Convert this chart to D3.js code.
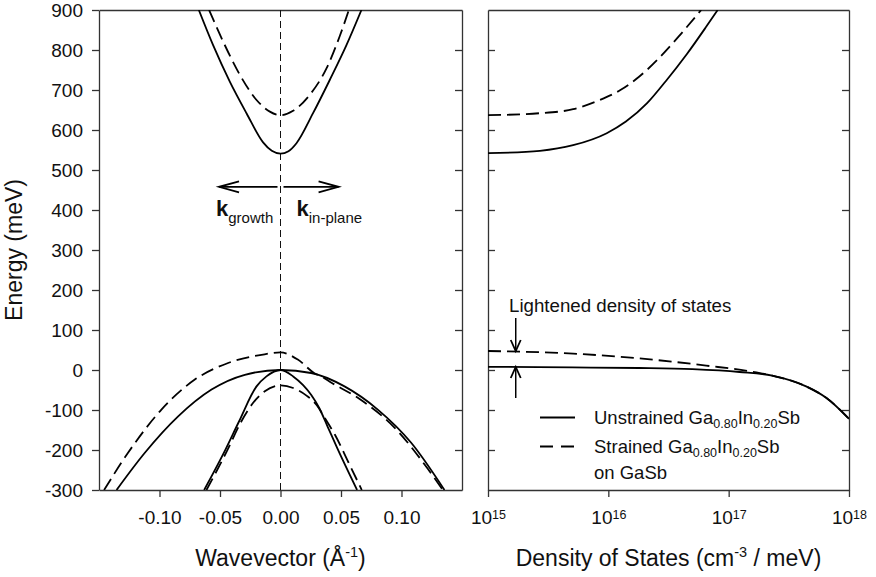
<!DOCTYPE html>
<html>
<head>
<meta charset="utf-8">
<script src="https://cdn.jsdelivr.net/npm/d3@7"></script>
<style>
  body { margin: 0; background: #fff; }
  text { font-family: "Liberation Sans", Arial, Helvetica, sans-serif; fill: #111; }
</style>
</head>
<body>
<script>
// tick values
const energyTicks = [-300, -200, -100, 0, 100, 200, 300, 400, 500, 600, 700, 800, 900];
const kTicks = [-0.10, -0.05, 0.00, 0.05, 0.10];
const dosTicks = [1e15, 1e16, 1e17, 1e18];

// band structure, k in 1/Angstrom (negative = growth direction), E in meV
const cbSolidK = [-0.0675, -0.0557, -0.0419, -0.0281, -0.0144, -0.0072, 0, 0.0066, 0.0132, 0.0269, 0.0407, 0.0545, 0.0669];
const cbSolidE = [900, 812, 721, 642, 569, 548, 541, 547, 567, 642, 725, 812, 900];
const cbDashK = [-0.059, -0.0474, -0.0336, -0.0198, -0.0088, 0, 0.0104, 0.0242, 0.038, 0.049, 0.0565];
const cbDashE = [900, 821, 738, 675, 646, 637, 648, 688, 754, 835, 900];

const hhSolidK = [-0.1355, -0.1121, -0.0846, -0.057, -0.0295, 0, 0.0253, 0.0529, 0.0804, 0.108, 0.1355];
const hhSolidE = [-300, -207, -116, -49, -12, 0, -7.5, -41, -99, -182, -300];
const hhDashK = [-0.1458, -0.126, -0.0984, -0.0708, -0.0433, -0.0157, 0, 0.0143, 0.028, 0.035, 0.0418, 0.0666, 0.0942, 0.1217, 0.1341];
const hhDashE = [-300, -207, -99, -24, 17.5, 38, 44, 26, -8, -18, -31, -75, -144, -247, -300];

const lhSolidK = [-0.0631, -0.0455, -0.0345, -0.0198, -0.0116, 0, 0.0105, 0.0187, 0.0253, 0.032, 0.039, 0.047, 0.0633];
const lhSolidE = [-300, -199, -130, -41, -16, 0, -16, -38, -62, -95, -142, -196, -300];
const lhDashK = [-0.0612, -0.044, -0.033, -0.0226, -0.013, 0, 0.0105, 0.0215, 0.03, 0.037, 0.045, 0.056, 0.0672];
const lhDashE = [-300, -201, -132, -82, -53, -38.5, -45, -64, -88, -122, -162, -230, -300];

// density of states, N in cm^-3/meV, E in meV
const dosCbSolidN = [1e15, 2.7e15, 5.1e15, 9.7e15, 1.4e16, 2.1e16, 3.0e16, 4.5e16, 6.5e16, 8.1e16];
const dosCbSolidE = [542, 548, 562, 592, 621, 667, 722, 790, 858, 900];
const dosCbDashN = [1e15, 2.7e15, 5.1e15, 8.5e15, 1.26e16, 1.8e16, 2.7e16, 3.9e16, 5.9e16];
const dosCbDashE = [637, 642, 652, 675, 700, 733, 783, 836, 900];
const dosVbSolidN = [1e15, 5e15, 1.8e16, 5e16, 1.23e17, 2.3e17, 4.4e17, 6.5e17, 1e18];
const dosVbSolidE = [8, 6.5, 5, 2, -5, -14, -41, -70, -122];
const dosVbDashN = [1e15, 5.1e15, 1.8e16, 6.5e16, 1.7e17, 2.3e17, 4.4e17, 6.5e17, 1e18];
const dosVbDashE = [47.5, 41, 29, 11, -6, -14, -41, -70, -122];

const zip = (xs, ys) => xs.map((x, i) => ({x: x, y: ys[i]}));

const W = 876, H = 577;
const axisColor = "#333";
const tickFont = 19;
const titleFont = 23;

const svg = d3.select("body").append("svg")
  .attr("width", W)
  .attr("height", H);

// scales
const y = d3.scaleLinear().domain([-300, 900]).range([490, 10]);
const xk = d3.scaleLinear().domain([-0.15, 0.15]).range([99, 462]);
const xn = d3.scaleLog().domain([1e15, 1e18]).range([488, 849]);

function styleAxis(g) {
  g.select(".domain").attr("stroke", axisColor).attr("stroke-width", 1.3);
  g.selectAll(".tick line").attr("stroke", axisColor).attr("stroke-width", 1.3);
  g.selectAll(".tick text").attr("font-size", tickFont).attr("fill", "#111");
}

// ---- left panel axes ----
svg.append("g")
  .attr("transform", "translate(" + xk.range()[0] + ",0)")
  .call(d3.axisLeft(y).tickValues(energyTicks).tickSize(7).tickPadding(9).tickSizeOuter(0)
    .tickFormat(d => String(d)))
  .call(styleAxis);

svg.append("g")
  .attr("transform", "translate(" + xk.range()[1] + ",0)")
  .call(d3.axisRight(y).tickValues(energyTicks.slice(1, -1)).tickSize(-7).tickSizeOuter(0).tickFormat(""))
  .call(styleAxis);

svg.append("g")
  .attr("transform", "translate(0," + y(-300) + ")")
  .call(d3.axisBottom(xk).tickValues(kTicks).tickSize(7).tickPadding(14).tickSizeOuter(0)
    .tickFormat(d => d.toFixed(2)))
  .call(styleAxis);

svg.append("g")
  .attr("transform", "translate(0," + y(900) + ")")
  .call(d3.axisTop(xk).tickValues([]).tickSizeOuter(0))
  .call(styleAxis);

// ---- right panel axes ----
svg.append("g")
  .attr("transform", "translate(" + xn.range()[0] + ",0)")
  .call(d3.axisLeft(y).tickValues(energyTicks.slice(1, -1)).tickSize(-7).tickSizeOuter(0).tickFormat(""))
  .call(styleAxis);

svg.append("g")
  .attr("transform", "translate(" + xn.range()[1] + ",0)")
  .call(d3.axisRight(y).tickValues(energyTicks.slice(1, -1)).tickSize(-7).tickSizeOuter(0).tickFormat(""))
  .call(styleAxis);

svg.append("g")
  .attr("transform", "translate(0," + y(900) + ")")
  .call(d3.axisTop(xn).tickValues([]).tickSizeOuter(0))
  .call(styleAxis);

const gxn = svg.append("g")
  .attr("transform", "translate(0," + y(-300) + ")")
  .call(d3.axisBottom(xn).tickValues(dosTicks).tickSize(7).tickPadding(14).tickSizeOuter(0).tickFormat(""))
  .call(styleAxis);

gxn.selectAll(".tick text").each(function(d) {
  const t = d3.select(this).text("10");
  t.append("tspan")
    .attr("font-size", 12.5)
    .attr("dy", -5)
    .text(Math.round(Math.log10(d)));
});

// ---- axis titles ----
svg.append("text")
  .attr("transform", "translate(22," + ((y(900) + y(-300)) / 2) + ") rotate(-90)")
  .attr("text-anchor", "middle")
  .attr("font-size", titleFont)
  .text("Energy (meV)");

const tk = svg.append("text")
  .attr("x", (xk.range()[0] + xk.range()[1]) / 2)
  .attr("y", 566)
  .attr("text-anchor", "middle")
  .attr("font-size", titleFont);
tk.append("tspan").text("Wavevector (Å");
tk.append("tspan").attr("font-size", 14.5).attr("dy", -9).text("-1");
tk.append("tspan").attr("dy", 9).text(")");

const tn = svg.append("text")
  .attr("x", (xn.range()[0] + xn.range()[1]) / 2)
  .attr("y", 566)
  .attr("text-anchor", "middle")
  .attr("font-size", titleFont);
tn.append("tspan").text("Density of States (cm");
tn.append("tspan").attr("font-size", 14.5).attr("dy", -9).text("-3");
tn.append("tspan").attr("dy", 9).text(" / meV)");

// ---- curves ----
svg.append("defs").append("clipPath").attr("id", "clipK")
  .append("rect").attr("x", 99).attr("y", 10).attr("width", 363).attr("height", 480);
svg.append("defs").append("clipPath").attr("id", "clipN")
  .append("rect").attr("x", 488).attr("y", 10).attr("width", 361).attr("height", 480);

// k = 0 guide
svg.append("line")
  .attr("x1", xk(0)).attr("x2", xk(0))
  .attr("y1", y(900)).attr("y2", y(-300))
  .attr("stroke", "#111").attr("stroke-width", 1)
  .attr("stroke-dasharray", "7,4");

const lineK = d3.line().x(d => xk(d.x)).y(d => y(d.y)).curve(d3.curveMonotoneX);
const lineN = d3.line().x(d => xn(d.x)).y(d => y(d.y)).curve(d3.curveMonotoneX);

const bands = [
  {k: cbSolidK, e: cbSolidE, dash: false},
  {k: cbDashK, e: cbDashE, dash: true},
  {k: hhSolidK, e: hhSolidE, dash: false},
  {k: hhDashK, e: hhDashE, dash: true},
  {k: lhSolidK, e: lhSolidE, dash: false},
  {k: lhDashK, e: lhDashE, dash: true}
];

svg.append("g").attr("clip-path", "url(#clipK)")
  .selectAll("path")
  .data(bands)
  .join("path")
  .attr("d", d => lineK(zip(d.k, d.e)))
  .attr("fill", "none")
  .attr("stroke", "#000")
  .attr("stroke-width", 1.8)
  .attr("stroke-dasharray", d => d.dash ? "13,6" : null);

const dos = [
  {n: dosCbSolidN, e: dosCbSolidE, dash: false},
  {n: dosCbDashN, e: dosCbDashE, dash: true},
  {n: dosVbSolidN, e: dosVbSolidE, dash: false},
  {n: dosVbDashN, e: dosVbDashE, dash: true}
];

svg.append("g").attr("clip-path", "url(#clipN)")
  .selectAll("path")
  .data(dos)
  .join("path")
  .attr("d", d => lineN(zip(d.n, d.e)))
  .attr("fill", "none")
  .attr("stroke", "#000")
  .attr("stroke-width", 1.8)
  .attr("stroke-dasharray", d => d.dash ? "13,6" : null);

// ---- k direction arrows ----
function arrowHead(g, x, yy, dx, dy, len, half) {
  // dx,dy: unit direction the arrow points
  const bx = x - dx * len, by = yy - dy * len;
  const px = -dy * half, py = dx * half;
  g.append("path")
    .attr("d", "M" + (bx + px) + "," + (by + py) + "L" + x + "," + yy + "L" + (bx - px) + "," + (by - py))
    .attr("fill", "none").attr("stroke", "#000").attr("stroke-width", 1.8);
}

const ga = svg.append("g");
const arrowY = y(458);
ga.append("line").attr("x1", xk(0) - 3).attr("x2", xk(-0.0508)).attr("y1", arrowY).attr("y2", arrowY)
  .attr("stroke", "#000").attr("stroke-width", 1.8);
arrowHead(ga, xk(-0.0508), arrowY, -1, 0, 20, 5.5);
ga.append("line").attr("x1", xk(0) + 3).attr("x2", xk(0.048)).attr("y1", arrowY).attr("y2", arrowY)
  .attr("stroke", "#000").attr("stroke-width", 1.8);
arrowHead(ga, xk(0.048), arrowY, 1, 0, 20, 5.5);

const kg = svg.append("text").attr("x", 216).attr("y", 216);
kg.append("tspan").attr("font-size", 22).attr("font-weight", "bold").text("k");
kg.append("tspan").attr("font-size", 15).attr("dy", 7).text("growth");

const kp = svg.append("text").attr("x", 296.5).attr("y", 216);
kp.append("tspan").attr("font-size", 22).attr("font-weight", "bold").text("k");
kp.append("tspan").attr("font-size", 15).attr("dy", 7).text("in-plane");

// ---- lightened DOS annotation ----
const gl = svg.append("g");
gl.append("text").attr("x", 509).attr("y", 311.5).attr("font-size", 18.7).text("Lightened density of states");
const ax = xn(1.7e15);
gl.append("line").attr("x1", ax).attr("x2", ax).attr("y1", 318).attr("y2", y(47.5))
  .attr("stroke", "#000").attr("stroke-width", 1.5);
arrowHead(gl, ax, y(47.5), 0, 1, 11, 5);
gl.append("line").attr("x1", ax).attr("x2", ax).attr("y1", 398).attr("y2", y(7.5))
  .attr("stroke", "#000").attr("stroke-width", 1.5);
arrowHead(gl, ax, y(7.5), 0, -1, 11, 5);

// ---- legend ----
const legendItems = [
  {dash: false, lines: [["Unstrained Ga", "0.80", "In", "0.20", "Sb"]]},
  {dash: true, lines: [["Strained Ga", "0.80", "In", "0.20", "Sb"], ["on GaSb"]]}
];
const lg = svg.append("g");
legendItems.forEach((it, i) => {
  const ly = 417.5 + i * 29;
  lg.append("line").attr("x1", 540).attr("x2", 575).attr("y1", ly).attr("y2", ly)
    .attr("stroke", "#000").attr("stroke-width", 1.8)
    .attr("stroke-dasharray", it.dash ? "13,8" : null);
  it.lines.forEach((parts, j) => {
    const t = lg.append("text").attr("x", 594).attr("y", ly + 6 + j * 26).attr("font-size", 18.5);
    parts.forEach((p, m) => {
      const sub = m % 2 === 1;
      t.append("tspan")
        .attr("font-size", sub ? 12.5 : null)
        .attr("dy", m === 0 ? null : (sub ? 4 : -4))
        .text(p);
    });
  });
});
</script>
</body>
</html>
